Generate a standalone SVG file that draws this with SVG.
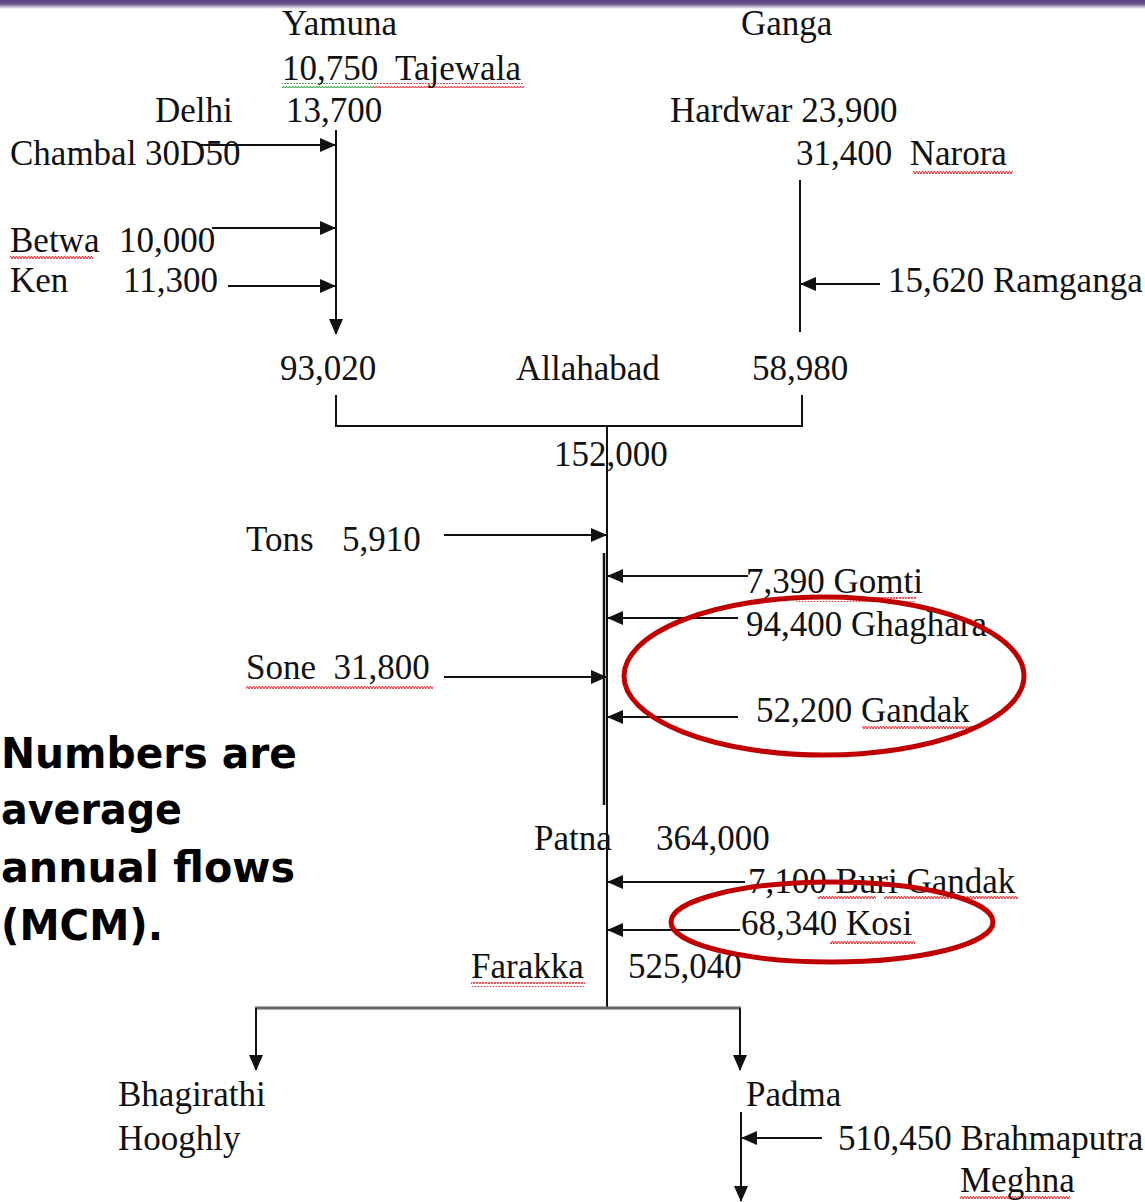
<svg xmlns="http://www.w3.org/2000/svg" width="1145" height="1202" viewBox="0 0 1145 1202">
<style>
.t{font-family:"Liberation Serif","Times New Roman",serif;font-size:35px;fill:#111}
.b{font-family:"DejaVu Sans",Tahoma,sans-serif;font-size:43px;font-weight:bold;fill:#000}
.ln{stroke:#111;stroke-width:2;fill:none}
.arr{stroke:#111;stroke-width:2;fill:none;marker-end:url(#ah)}
.red{stroke:#c00000;stroke-width:5;fill:none}
.sqr{fill:url(#wr)}
.sqg{fill:url(#wg)}
</style>
<defs>
<marker id="ah" viewBox="0 0 16 14" refX="15" refY="7" markerWidth="16" markerHeight="14" markerUnits="userSpaceOnUse" orient="auto">
<path d="M0,0 L16,7 L0,14 Z" fill="#111"/>
</marker>
<pattern id="wr" width="6" height="5" patternUnits="userSpaceOnUse">
<path d="M0,4 L1.5,1 L3,4 L4.5,1 L6,4" stroke="#e8252a" stroke-width="1" fill="none"/>
</pattern>
<pattern id="wg" width="6" height="5" patternUnits="userSpaceOnUse">
<path d="M0,4 L1.5,1 L3,4 L4.5,1 L6,4" stroke="#2a9a3a" stroke-width="1" fill="none"/>
</pattern>
<linearGradient id="band" x1="0" y1="0" x2="0" y2="1">
<stop offset="0" stop-color="#5a3d85"/>
<stop offset="0.45" stop-color="#6b5a8c"/>
<stop offset="1" stop-color="#ffffff"/>
</linearGradient>
</defs>
<rect x="0" y="0" width="1145" height="1202" fill="#fff"/>
<rect x="0" y="0" width="1145" height="9" fill="url(#band)"/>

<g id="connectors">
<line class="arr" x1="336" y1="130" x2="336" y2="334"/>
<line class="arr" x1="200" y1="145" x2="335" y2="145"/>
<line class="arr" x1="212" y1="228" x2="335" y2="228"/>
<line class="arr" x1="228" y1="286" x2="335" y2="286"/>
<line class="ln" x1="800" y1="180" x2="800" y2="332"/>
<line class="arr" x1="880" y1="284" x2="801" y2="284"/>
<polyline class="ln" points="336,395 336,426 802,426 802,395"/>
<line class="ln" x1="607" y1="426" x2="607" y2="1008"/>
<line x1="604" y1="553" x2="604" y2="805" stroke="#111" stroke-width="2.5"/>
<line class="arr" x1="444" y1="535" x2="606" y2="535"/>
<line class="arr" x1="748" y1="576" x2="608" y2="576"/>
<line class="arr" x1="738" y1="618" x2="608" y2="618"/>
<line class="arr" x1="444" y1="677" x2="606" y2="677"/>
<line class="arr" x1="738" y1="717" x2="608" y2="717"/>
<line class="arr" x1="745" y1="882" x2="608" y2="882"/>
<line class="arr" x1="740" y1="930" x2="608" y2="930"/>
<line x1="255" y1="1008" x2="741" y2="1008" stroke="#666" stroke-width="3"/>
<line class="arr" x1="256" y1="1008" x2="256" y2="1070"/>
<line class="arr" x1="740" y1="1008" x2="740" y2="1070"/>
<line class="arr" x1="741" y1="1112" x2="741" y2="1201"/>
<line class="arr" x1="822" y1="1138" x2="742" y2="1138"/>
</g>

<g id="squiggles">
<rect class="sqg" x="282" y="83" width="91" height="5"/>
<rect class="sqr" x="373" y="83" width="151" height="5"/>
<rect class="sqr" x="10" y="255" width="83" height="5"/>
<rect class="sqr" x="913" y="169" width="100" height="5"/>
<rect class="sqr" x="796" y="597" width="120" height="5"/>
<rect class="sqr" x="246" y="684" width="187" height="5"/>
<rect class="sqr" x="862" y="725" width="113" height="5"/>
<rect class="sqr" x="471" y="982" width="114" height="5"/>
<rect class="sqr" x="818" y="895" width="58" height="5"/>
<rect class="sqr" x="884" y="895" width="134" height="5"/>
<rect class="sqr" x="830" y="939" width="85" height="5"/>
<rect class="sqr" x="960" y="1195" width="110" height="5"/>
</g>

<g id="n-yamuna"><text class="t" x="282" y="35">Yamuna</text></g>
<g id="n-ganga"><text class="t" x="741" y="35">Ganga</text></g>
<g id="n-tajewala"><text class="t" x="282" y="80" xml:space="preserve">10,750  Tajewala</text></g>
<g id="n-delhi"><text class="t" x="155" y="122">Delhi</text><text class="t" x="286" y="122">13,700</text></g>
<g id="n-hardwar"><text class="t" x="670" y="122">Hardwar 23,900</text></g>
<g id="n-chambal"><text class="t" x="10" y="165">Chambal 30D50</text></g>
<g id="n-narora"><text class="t" x="796" y="165" xml:space="preserve">31,400  Narora</text></g>
<g id="n-betwa"><text class="t" x="10" y="252">Betwa</text><text class="t" x="119" y="252">10,000</text></g>
<g id="n-ken"><text class="t" x="10" y="292">Ken</text><text class="t" x="123" y="292">11,300</text></g>
<g id="n-ramganga"><text class="t" x="888" y="292">15,620 Ramganga</text></g>
<g id="n-allahabad">
<text class="t" x="280" y="380">93,020</text>
<text class="t" x="516" y="380">Allahabad</text>
<text class="t" x="752" y="380">58,980</text>
<text class="t" x="554" y="466">152,000</text>
</g>
<g id="n-tons"><text class="t" x="246" y="551">Tons</text><text class="t" x="342" y="551">5,910</text></g>
<g id="n-gomti"><text class="t" x="746" y="593">7,390 Gomti</text></g>
<g id="n-ghaghara"><text class="t" x="746" y="636">94,400 Ghaghara</text></g>
<g id="n-sone"><text class="t" x="246" y="679" xml:space="preserve">Sone  31,800</text></g>
<g id="n-gandak"><text class="t" x="756" y="722">52,200 Gandak</text></g>
<g id="n-patna"><text class="t" x="534" y="850">Patna</text><text class="t" x="656" y="850">364,000</text></g>
<g id="n-buri"><text class="t" x="748" y="893">7,100 Buri Gandak</text></g>
<g id="n-kosi"><text class="t" x="741" y="935">68,340 Kosi</text></g>
<g id="n-farakka"><text class="t" x="471" y="978">Farakka</text><text class="t" x="628" y="978">525,040</text></g>
<g id="n-bhagirathi"><text class="t" x="118" y="1106">Bhagirathi</text><text class="t" x="118" y="1150">Hooghly</text></g>
<g id="n-padma"><text class="t" x="746" y="1106">Padma</text></g>
<g id="n-brahmaputra"><text class="t" x="838" y="1150">510,450 Brahmaputra</text></g>
<g id="n-meghna"><text class="t" x="960" y="1192">Meghna</text></g>

<g id="note">
<text class="b" x="1" y="768" textLength="296" lengthAdjust="spacingAndGlyphs">Numbers are</text>
<text class="b" x="1" y="824" textLength="181" lengthAdjust="spacingAndGlyphs">average</text>
<text class="b" x="1" y="882" textLength="294" lengthAdjust="spacingAndGlyphs">annual flows</text>
<text class="b" x="1" y="940" textLength="162" lengthAdjust="spacingAndGlyphs">(MCM).</text>
</g>

<g id="highlights">
<ellipse class="red" cx="824" cy="676" rx="200" ry="79"/>
<ellipse class="red" cx="832" cy="922" rx="161" ry="40"/>
</g>
</svg>
